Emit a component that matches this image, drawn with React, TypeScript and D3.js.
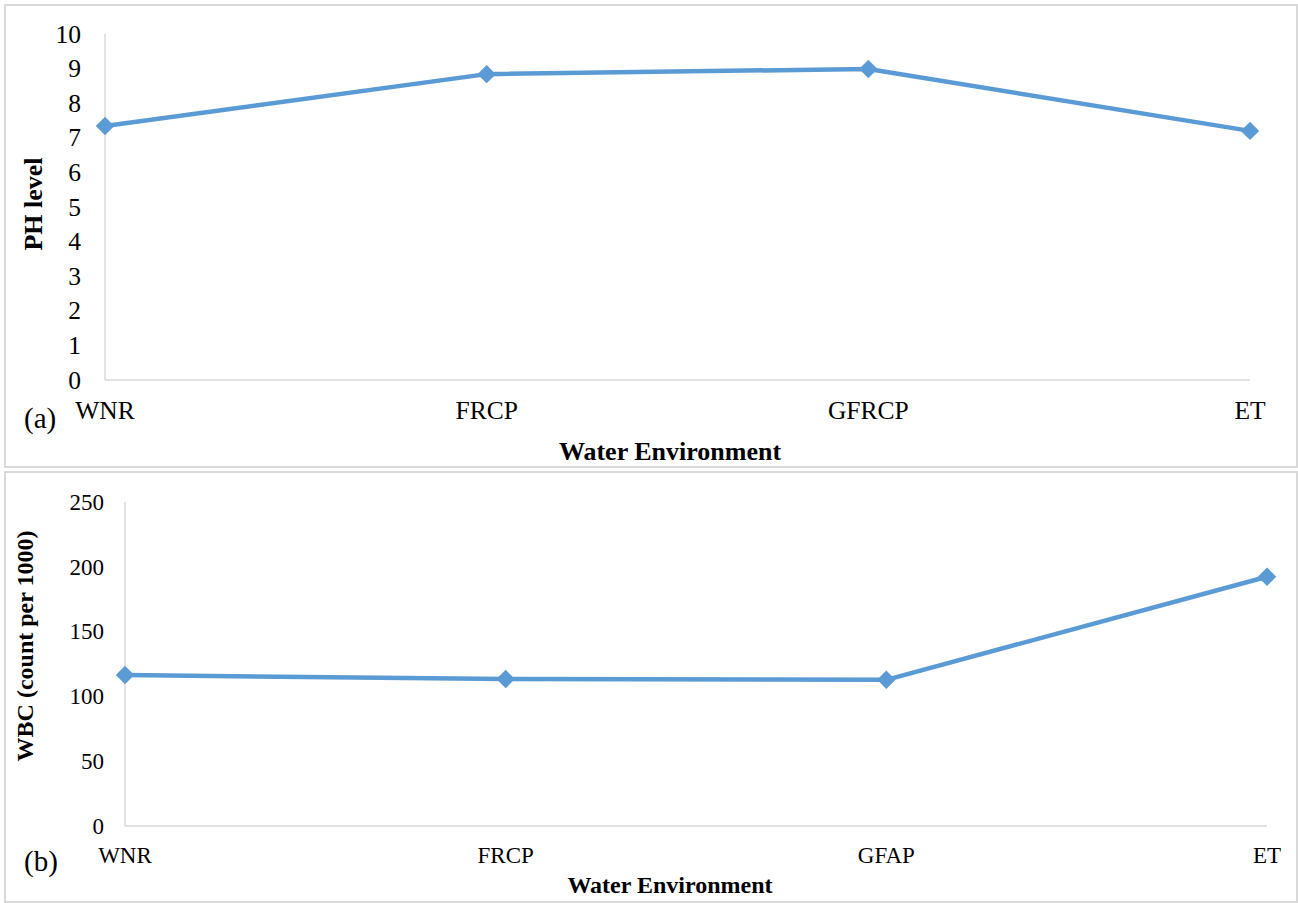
import { useEffect, useRef } from 'react';
import * as d3 from 'd3';

// Panel (a) - pH level
const phCategories = ['WNR', 'FRCP', 'GFRCP', 'ET'];
const phValues = [7.34, 8.84, 8.99, 7.2];
const phTicks = [0, 1, 2, 3, 4, 5, 6, 7, 8, 9, 10];

// Panel (b) - WBC
const wbcCategories = ['WNR', 'FRCP', 'GFAP', 'ET'];
const wbcValues = [116.5, 113.4, 112.8, 192.3];
const wbcTicks = [0, 50, 100, 150, 200, 250];

const LINE_COLOR = '#5B9BD5';
const AXIS_COLOR = '#D9D9D9';
const FONT = '"Liberation Serif", "Times New Roman", serif';

interface PanelSpec {
  categories: string[];
  values: number[];
  ticks: number[];
  box: [number, number, number, number];
  xRange: [number, number];
  yRange: [number, number];
  tickSize: number;
  tickX: number;
  xLabelY: number;
  titleSize: number;
  titleX: number;
  titleY: number;
  yTitle: string;
  yTitleX: number;
  yTitleY: number;
  tag: string;
  tagY: number;
}

const panels: PanelSpec[] = [
  {
    categories: phCategories,
    values: phValues,
    ticks: phTicks,
    box: [5, 5, 1292, 462],
    xRange: [105, 1250],
    yRange: [380, 34],
    tickSize: 25.5,
    tickX: 81,
    xLabelY: 419,
    titleSize: 26,
    titleX: 670,
    titleY: 460,
    yTitle: 'PH level',
    yTitleX: 42,
    yTitleY: 204,
    tag: '(a)',
    tagY: 428,
  },
  {
    categories: wbcCategories,
    values: wbcValues,
    ticks: wbcTicks,
    box: [5, 472, 1292, 430],
    xRange: [125, 1267],
    yRange: [826, 502],
    tickSize: 23,
    tickX: 104,
    xLabelY: 863,
    titleSize: 24,
    titleX: 670,
    titleY: 893,
    yTitle: 'WBC (count per 1000)',
    yTitleX: 33,
    yTitleY: 646,
    tag: '(b)',
    tagY: 871,
  },
];

export default function App() {
  const svgRef = useRef<SVGSVGElement>(null);

  useEffect(() => {
    if (!svgRef.current) return;
    const svg = d3.select(svgRef.current);
    svg.selectAll('*').remove();

    panels.forEach((p) => {
      const g = svg.append('g');
      const [bx, by, bw, bh] = p.box;

      g.append('rect')
        .attr('x', bx).attr('y', by)
        .attr('width', bw).attr('height', bh)
        .attr('fill', '#fff')
        .attr('stroke', AXIS_COLOR)
        .attr('stroke-width', 2);

      const xScale = d3.scalePoint<string>().domain(p.categories).range(p.xRange);
      const yScale = d3.scaleLinear()
        .domain([0, d3.max(p.ticks)!])
        .range(p.yRange);

      // Axes lines
      g.append('line')
        .attr('x1', p.xRange[0]).attr('x2', p.xRange[0])
        .attr('y1', p.yRange[0]).attr('y2', p.yRange[1])
        .attr('stroke', AXIS_COLOR)
        .attr('stroke-width', 1.5);
      g.append('line')
        .attr('x1', p.xRange[0]).attr('x2', p.xRange[1])
        .attr('y1', p.yRange[0]).attr('y2', p.yRange[0])
        .attr('stroke', AXIS_COLOR)
        .attr('stroke-width', 1.5);

      // Y tick labels
      g.selectAll('.ytick')
        .data(p.ticks)
        .join('text')
        .attr('x', p.tickX)
        .attr('y', (d) => yScale(d))
        .attr('dy', '0.34em')
        .attr('text-anchor', 'end')
        .attr('font-family', FONT)
        .attr('font-size', p.tickSize)
        .attr('fill', '#000')
        .text((d) => d);

      // X category labels
      g.selectAll('.xtick')
        .data(p.categories)
        .join('text')
        .attr('x', (d) => xScale(d)!)
        .attr('y', p.xLabelY)
        .attr('text-anchor', 'middle')
        .attr('font-family', FONT)
        .attr('font-size', p.tickSize)
        .attr('fill', '#000')
        .text((d) => d);

      // Axis titles
      g.append('text')
        .attr('x', p.titleX)
        .attr('y', p.titleY)
        .attr('text-anchor', 'middle')
        .attr('font-family', FONT)
        .attr('font-weight', 'bold')
        .attr('font-size', p.titleSize)
        .text('Water Environment');

      g.append('text')
        .attr('transform', `translate(${p.yTitleX},${p.yTitleY}) rotate(-90)`)
        .attr('text-anchor', 'middle')
        .attr('font-family', FONT)
        .attr('font-weight', 'bold')
        .attr('font-size', p.titleSize)
        .text(p.yTitle);

      g.append('text')
        .attr('x', 24)
        .attr('y', p.tagY)
        .attr('font-family', FONT)
        .attr('font-size', 29)
        .text(p.tag);

      // Line + diamond markers
      const pts = p.categories.map((c, i) => ({ c, v: p.values[i] }));
      const line = d3.line<typeof pts[0]>()
        .x((d) => xScale(d.c)!)
        .y((d) => yScale(d.v));

      g.append('path')
        .datum(pts)
        .attr('fill', 'none')
        .attr('stroke', LINE_COLOR)
        .attr('stroke-width', 4.5)
        .attr('stroke-linejoin', 'round')
        .attr('d', line);

      const diamond = d3.symbol(d3.symbolSquare, 170)();
      g.selectAll('.marker')
        .data(pts)
        .join('path')
        .attr('d', diamond)
        .attr('transform', (d) => `translate(${xScale(d.c)},${yScale(d.v)}) rotate(45)`)
        .attr('fill', LINE_COLOR);
    });
  }, []);

  return (
    <div style={{ position: 'absolute', left: 0, top: 0 }}>
      <svg ref={svgRef} width={1298} height={903} style={{ display: 'block' }} />
    </div>
  );
}
